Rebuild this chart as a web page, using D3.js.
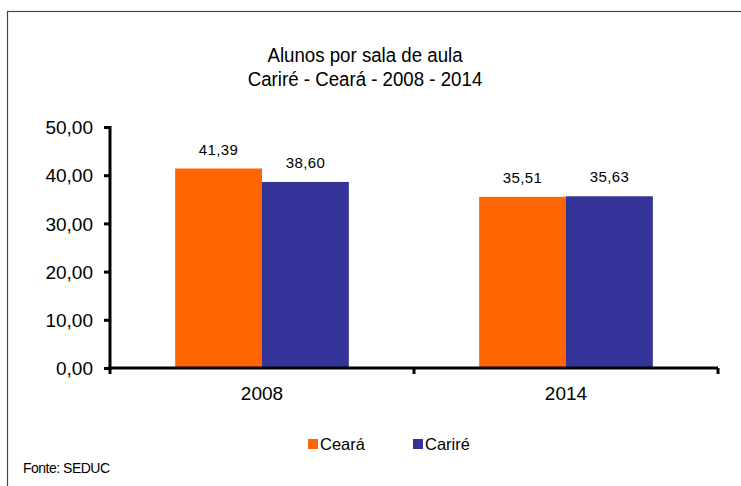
<!DOCTYPE html>
<html lang="pt">
<head>
  <meta charset="UTF-8">
  <title>Alunos por sala de aula</title>
  <script src="https://cdn.jsdelivr.net/npm/d3@7"></script>
  <style>
    body { margin: 0; background: #fff; }
    svg text { font-family: "Liberation Sans", Arial, sans-serif; fill: #000; }
  </style>
</head>
<body>
<div id="grafica"></div>
<script>
// dados
anos    = ['2008', '2014']
series  = ['Ceará', 'Cariré']
ceara   = [41.39, 35.51]
carire  = [38.60, 35.63]
yTicks  = [0, 10, 20, 30, 40, 50]
cores   = ['#FF6600', '#333399']

ancho = 741
alto  = 486

svg = d3.select('#grafica')
        .append('svg')
        .attr('width', ancho)
        .attr('height', alto)

// moldura
svg.append('rect')
   .attr('x', 7.5).attr('y', 11.5)
   .attr('width', 760).attr('height', 500)
   .attr('fill', 'none')
   .attr('stroke', '#444')
   .attr('stroke-width', 1.2)

// titulo (letra estreita)
titulo = svg.append('text')
   .attr('text-anchor', 'middle')
   .attr('transform', 'translate(365,0) scale(0.89,1)')
   .style('font-size', '21px')
titulo.append('tspan').attr('x', 0).attr('y', 62).text('Alunos por sala de aula')
titulo.append('tspan').attr('x', 0).attr('y', 86).text('Cariré - Ceará - 2008 - 2014')

margem = { left: 110, right: 718, top: 127, bottom: 368 }

x = d3.scaleBand()
      .domain(anos)
      .range([margem.left, margem.right])
      .paddingInner(0)
      .paddingOuter(0)

// largura da barra: gap 75%
xs = d3.scaleBand()
       .domain(series)
       .range([0, x.bandwidth()])
       .paddingInner(0)
       .paddingOuter(0.75)

y = d3.scaleLinear()
      .domain([0, 50])
      .range([margem.bottom, margem.top])

dados = []
anos.forEach(function(a, i) {
  dados.push({ ano: a, serie: series[0], valor: ceara[i] })
  dados.push({ ano: a, serie: series[1], valor: carire[i] })
})

svg.selectAll('rect.barra')
   .data(dados)
   .enter()
   .append('rect')
   .attr('class', 'barra')
   .attr('x', d => x(d.ano) + xs(d.serie))
   .attr('y', d => y(d.valor))
   .attr('width', xs.bandwidth())
   .attr('height', d => y(0) - y(d.valor))
   .attr('fill', d => cores[series.indexOf(d.serie)])

// rotulos de dados
svg.selectAll('text.rotulo')
   .data(dados)
   .enter()
   .append('text')
   .attr('class', 'rotulo')
   .attr('x', d => x(d.ano) + xs(d.serie) + xs.bandwidth() / 2)
   .attr('y', d => y(d.valor) - 14)
   .attr('text-anchor', 'middle')
   .style('font-size', '15px')
   .style('letter-spacing', '0.4px')
   .text(d => d3.format('.2f')(d.valor).replace('.', ','))

// eixo y
eixoY = svg.append('g')
   .attr('transform', 'translate(' + margem.left + ',0)')
   .call(d3.axisLeft(y)
           .tickValues(yTicks)
           .tickSize(6)
           .tickPadding(11)
           .tickFormat(d => d3.format('.2f')(d).replace('.', ',')))
eixoY.select('.domain').attr('stroke', '#000').attr('stroke-width', 3)
     .attr('d', 'M0,' + (margem.top - 1) + 'V' + (margem.bottom + 6))
eixoY.selectAll('.tick line').attr('stroke', '#000').attr('stroke-width', 3)
eixoY.selectAll('.tick text')
     .style('font-size', '19px')
     .style('font-family', '"Liberation Sans", Arial, sans-serif')
     .attr('dy', '0.35em')

// eixo x
eixoX = svg.append('g')
   .attr('transform', 'translate(0,' + margem.bottom + ')')
   .call(d3.axisBottom(x).tickSize(0).tickPadding(19))
eixoX.select('.domain').attr('stroke', '#000').attr('stroke-width', 3)
     .attr('d', 'M' + (margem.left - 2) + ',0H' + margem.right)
eixoX.selectAll('.tick text')
     .style('font-size', '19px')
     .style('font-family', '"Liberation Sans", Arial, sans-serif')
     .attr('dy', '0.71em')

// marcas entre categorias
divisoes = [x('2014'), margem.right]
svg.selectAll('line.div')
   .data(divisoes)
   .enter()
   .append('line')
   .attr('class', 'div')
   .attr('x1', d => d).attr('x2', d => d)
   .attr('y1', margem.bottom).attr('y2', margem.bottom + 6)
   .attr('stroke', '#000')
   .attr('stroke-width', 3)

// legenda
legX = [308, 413]
leg = svg.selectAll('g.leg')
   .data(series)
   .enter()
   .append('g')
   .attr('class', 'leg')
   .attr('transform', (d, i) => 'translate(' + legX[i] + ',439)')
leg.append('rect')
   .attr('width', 10).attr('height', 10)
   .attr('fill', (d, i) => cores[i])
leg.append('text')
   .attr('x', 12).attr('y', 11)
   .style('font-size', '16.5px')
   .text(d => d)

// fonte
svg.append('text')
   .attr('x', 23).attr('y', 473)
   .style('font-size', '14px')
   .style('letter-spacing', '-0.5px')
   .text('Fonte: SEDUC')
</script>
</body>
</html>
